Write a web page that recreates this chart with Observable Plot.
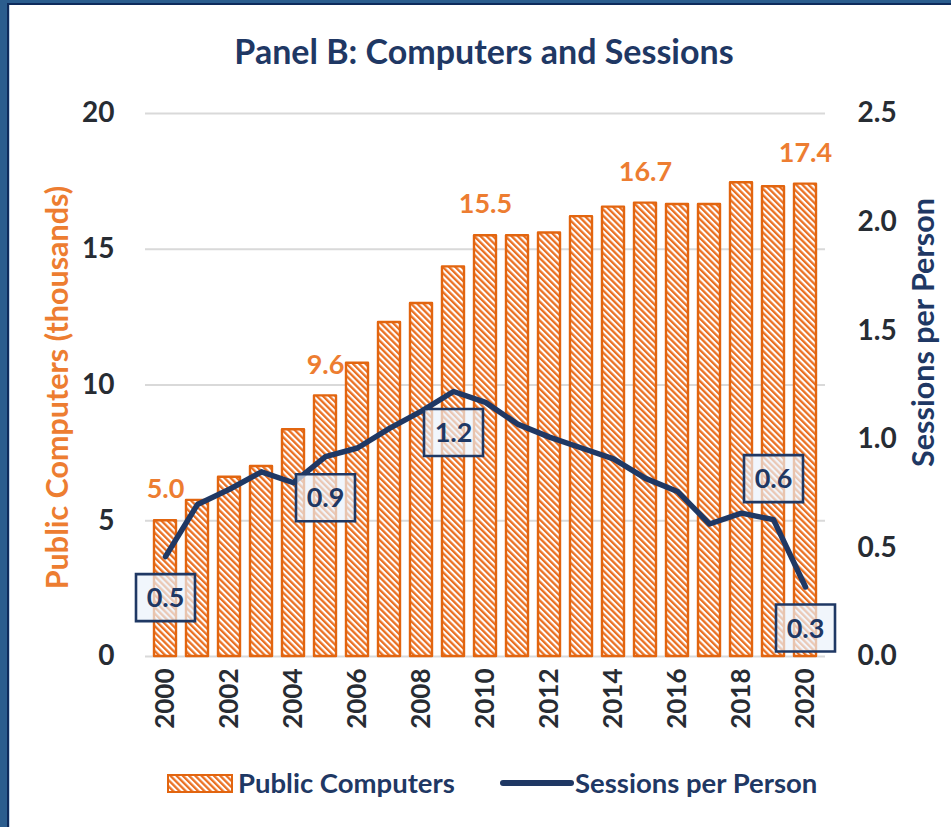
<!DOCTYPE html>
<html>
<head>
<meta charset="utf-8">
<script src="https://cdn.jsdelivr.net/npm/d3@7"></script>
<script src="https://cdn.jsdelivr.net/npm/@observablehq/plot@0.6"></script>
<style>
  body { margin: 0; background: #fff; }
  #wrap { position: relative; width: 951px; height: 827px; overflow: hidden; font-family: Lato, "Open Sans", sans-serif; background: #fff; }
  #wrap > svg { position: absolute; left: 0; top: 0; }
  #title { position: absolute; left: 0; top: 30px; width: 968px; text-align: center; font-weight: bold; font-size: 34px; color: #1f3864; }
  .lg { position: absolute; font-weight: bold; font-size: 27.5px; color: #1f3864; line-height: 1; }
  #bl { position: absolute; left: 0; top: 0; width: 7px; height: 827px; background: #2b5d8e; }
  #bl2 { position: absolute; left: 7px; top: 0; width: 2px; height: 827px; background: #0e2b5c; }
  #bl3 { position: absolute; left: 9px; top: 0; width: 1px; height: 827px; background: #c7d5e8; }
  #bt { position: absolute; left: 0; top: 0; width: 951px; height: 3px; background: #2b5d8e; }
  #bt2 { position: absolute; left: 7px; top: 3px; width: 944px; height: 2px; background: #0e2b5c; }
</style>
</head>
<body>
<div id="wrap">
  <div id="title">Panel B: Computers and Sessions</div>
</div>
<script>
// ---- data ----
const years = [2000, 2001, 2002, 2003, 2004, 2005, 2006, 2007, 2008, 2009, 2010,
               2011, 2012, 2013, 2014, 2015, 2016, 2017, 2018, 2019, 2020];
const computers = [5.0, 5.75, 6.6, 7.0, 8.35, 9.6, 10.8, 12.3, 13.0, 14.35, 15.5,
                   15.5, 15.6, 16.2, 16.55, 16.7, 16.65, 16.65, 17.45, 17.3, 17.4];
const sessions = [0.46, 0.70, 0.77, 0.85, 0.80, 0.92, 0.96, 1.05, 1.13, 1.22, 1.17,
                  1.07, 1.01, 0.96, 0.91, 0.82, 0.76, 0.61, 0.66, 0.63, 0.32];
const computerLabelYears = [2000, 2005, 2010, 2015, 2020];
const sessionLabelYears = [2000, 2005, 2009, 2019, 2020];
const sessionLabelAbove = [false, false, false, true, false];
const leftTicks = [0, 5, 10, 15, 20];
const rightTicks = [0.0, 0.5, 1.0, 1.5, 2.0, 2.5];
const xTickYears = [2000, 2002, 2004, 2006, 2008, 2010, 2012, 2014, 2016, 2018, 2020];
const leftTitle = "Public Computers (thousands)";
const rightTitle = "Sessions per Person";
const legendLabels = ["Public Computers", "Sessions per Person"];

// ---- derived ----
const ratio = 20 / 2.5; // right axis -> left axis units
const rows = years.map((year, i) => ({year, computers: computers[i], sessions: sessions[i]}));
const compLabels = rows.filter(d => computerLabelYears.includes(d.year));
const sessLabels = sessionLabelYears.map((yr, j) => ({...rows.find(d => d.year === yr), above: sessionLabelAbove[j]}));
const below = sessLabels.filter(d => !d.above);
const above = sessLabels.filter(d => d.above);

const orange = "#ed7d31", barStroke = "#e2650f", navy = "#1f3864", lineNavy = "#1f3864", tickColor = "#272c33";
const boxSymbol = {draw(ctx) { ctx.moveTo(-29.5, -23.5); ctx.lineTo(29.5, -23.5); ctx.lineTo(29.5, 23.5); ctx.lineTo(-29.5, 23.5); ctx.closePath(); }};
const sy = d => d.sessions * ratio;

const boxMarks = (data, dy) => [
  Plot.dot(data, {x: "year", y: sy, symbol: boxSymbol, dy, fill: "#eaf2fb", fillOpacity: 0.68, stroke: navy, strokeWidth: 2.6}),
  Plot.text(data, {x: "year", y: sy, dy: dy + 1, text: d => d.sessions.toFixed(1), fill: navy, fontSize: 27, fontWeight: "bold"})
];

const plot = Plot.plot({
  width: 951, height: 740,
  marginTop: 113, marginBottom: 84, marginLeft: 145, marginRight: 126,
  style: {fontFamily: "Lato, 'Open Sans', sans-serif", color: tickColor, background: "transparent", overflow: "visible"},
  x: {type: "band", domain: years, paddingInner: 0.3, paddingOuter: 0.15},
  y: {domain: [0, 20]},
  marks: [
    Plot.ruleY(leftTicks, {stroke: "#d9d9d9", strokeWidth: 2.2}),
    Plot.barY(rows, {x: "year", y: "computers", fill: "url(#stripes)", stroke: barStroke, strokeWidth: 2.4, strokeLinejoin: "round"}),
    Plot.text(compLabels, {x: "year", y: "computers", dy: -31, text: d => d.computers.toFixed(1), fill: orange, fontSize: 27, fontWeight: "bold"}),
    Plot.line(rows, {x: "year", y: sy, stroke: lineNavy, strokeWidth: 5.5, strokeLinejoin: "round", strokeLinecap: "round"}),
    ...boxMarks(below, 41),
    ...boxMarks(above, -41),
    Plot.axisY(leftTicks, {anchor: "left", tickSize: 0, tickPadding: 31, fontSize: 28, fontWeight: "bold", label: null, tickFormat: d => String(d)}),
    Plot.axisY(rightTicks.map(v => v * ratio), {anchor: "right", tickSize: 0, tickPadding: 32, fontSize: 28, fontWeight: "bold", label: null, tickFormat: d => (d / ratio).toFixed(1)}),
    Plot.axisX(xTickYears, {anchor: "bottom", tickSize: 0, tickPadding: 12, tickRotate: -90, fontSize: 26, fontWeight: "bold", label: null, tickFormat: d => String(d)}),
    Plot.text([leftTitle], {frameAnchor: "left", rotate: -90, dx: -87, dy: 2.5, textAnchor: "middle", fill: orange, fontSize: 30.5, fontWeight: "bold"}),
    Plot.text([rightTitle], {frameAnchor: "right", rotate: -90, dx: 99, dy: -52.5, textAnchor: "middle", fill: navy, fontSize: 30.5, fontWeight: "bold"})
  ]
});

function addStripes(svgSel, id) {
  const defs = svgSel.insert("defs", ":first-child");
  const pat = defs.append("pattern").attr("id", id).attr("patternUnits", "userSpaceOnUse")
    .attr("width", 4.4).attr("height", 4.4).attr("patternTransform", "rotate(-45)");
  pat.append("rect").attr("width", 4.4).attr("height", 4.4).attr("fill", "#ffffff");
  pat.append("rect").attr("width", 2.3).attr("height", 4.4).attr("fill", "#ea7022");
}
addStripes(d3.select(plot), "stripes");

const wrap = document.getElementById("wrap");
wrap.insertBefore(plot, wrap.firstChild);

// ---- legend ----
const lg1 = d3.select(wrap).append("svg").style("position", "absolute").style("left", "167px").style("top", "774px")
  .attr("width", 66).attr("height", 19);
addStripes(lg1, "lgstripes");
lg1.append("rect").attr("x", 1).attr("y", 1).attr("width", 64).attr("height", 17).attr("fill", "url(#lgstripes)").attr("stroke", barStroke).attr("stroke-width", 2);
d3.select(wrap).append("div").attr("class", "lg").style("left", "238px").style("top", "769px").text(legendLabels[0]);
const lg2 = d3.select(wrap).append("svg").style("position", "absolute").style("left", "499px").style("top", "776px")
  .attr("width", 76).attr("height", 14);
lg2.append("line").attr("x1", 4).attr("x2", 72).attr("y1", 7).attr("y2", 7).attr("stroke", lineNavy).attr("stroke-width", 6).attr("stroke-linecap", "round");
d3.select(wrap).append("div").attr("class", "lg").style("left", "575px").style("top", "769px").text(legendLabels[1]);

// ---- frame border ----
["bl", "bl2", "bl3", "bt", "bt2"].forEach(id => d3.select(wrap).append("div").attr("id", id));
</script>
</body>
</html>
